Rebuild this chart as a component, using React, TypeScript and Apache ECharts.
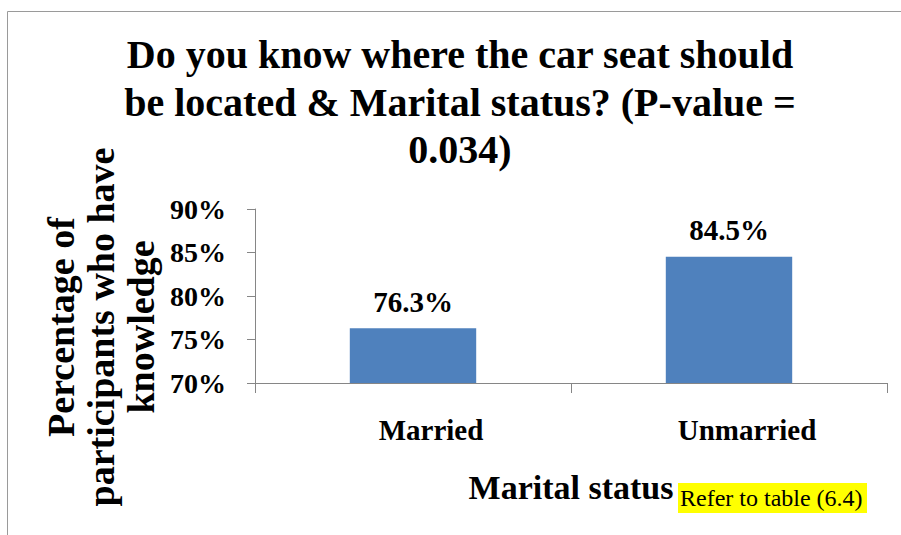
import React, { useEffect, useRef } from "react";
import * as echarts from "echarts";

const categories: string[] = ["Married", "Unmarried"];
const knowledgePct: number[] = [76.3, 84.5];
const yTicks = { min: 70, max: 90, interval: 5 };
const titleLines: string[] = [
  "Do you know where the car seat should",
  "be located & Marital status? (P-value =",
  "0.034)",
];
const yAxisNameLines: string[] = ["Percentage of", "participants who have", "knowledge"];
const xAxisName = "Marital status";
const noteText = "Refer to table (6.4)";

const SERIF = "'Liberation Serif', 'Times New Roman', serif";

export default function App() {
  const ref = useRef<HTMLDivElement>(null);
  useEffect(() => {
    if (!ref.current) return;
    const chart = echarts.init(ref.current, null, { renderer: "svg" });
    chart.setOption({
      animation: false,
      backgroundColor: "#ffffff",
      grid: { left: 255, right: 14, top: 209, bottom: 152, containLabel: false },
      xAxis: {
        type: "category",
        data: categories,
        boundaryGap: true,
        axisLine: { lineStyle: { color: "#868686", width: 1 } },
        axisTick: { show: true, length: 10, alignWithLabel: false, lineStyle: { color: "#868686" } },
        axisLabel: {
          margin: 32,
          padding: [0, 0, 0, 36],
          color: "#000",
          fontFamily: SERIF,
          fontWeight: "bold",
          fontSize: 29,
        },
        name: xAxisName,
        nameLocation: "middle",
        nameGap: 87,
        nameTextStyle: { color: "#000", fontFamily: SERIF, fontWeight: "bold", fontSize: 34 },
      },
      yAxis: {
        type: "value",
        min: yTicks.min,
        max: yTicks.max,
        interval: yTicks.interval,
        splitLine: { show: false },
        axisLine: { show: true, lineStyle: { color: "#868686", width: 1 } },
        axisTick: { show: true, length: 8, lineStyle: { color: "#868686" } },
        axisLabel: {
          formatter: "{value}%",
          margin: 29,
          color: "#000",
          fontFamily: SERIF,
          fontWeight: "bold",
          fontSize: 28,
        },
      },
      series: [
        {
          type: "bar",
          data: knowledgePct,
          barWidth: "40%",
          itemStyle: { color: "#4F81BD" },
          label: {
            show: true,
            position: "top",
            distance: 12,
            formatter: (p: any) => `${p.value.toFixed(1)}%`,
            color: "#000",
            fontFamily: SERIF,
            fontWeight: "bold",
            fontSize: 29,
          },
        },
      ],
      graphic: [
        {
          type: "rect",
          shape: { x: 7.5, y: 11.5, width: 1000, height: 1000 },
          style: { fill: "none", stroke: "#9a9a9a", lineWidth: 1 },
          silent: true,
          z: 0,
        },
        {
          type: "text",
          x: 460,
          y: 31,
          style: {
            text: titleLines.join("\n"),
            textAlign: "center",
            textVerticalAlign: "top",
            font: `bold 40px ${SERIF}`,
            lineHeight: 47.5,
            fill: "#000",
          },
        },
        {
          type: "text",
          x: 101,
          y: 327,
          rotation: Math.PI / 2,
          style: {
            text: yAxisNameLines.join("\n"),
            textAlign: "center",
            textVerticalAlign: "middle",
            font: `bold 38px ${SERIF}`,
            lineHeight: 40,
            fill: "#000",
          },
        },
        {
          type: "rect",
          shape: { x: 678, y: 483, width: 189, height: 30 },
          style: { fill: "#FFFF00" },
          silent: true,
        },
        {
          type: "text",
          x: 680,
          y: 498,
          style: {
            text: noteText,
            textAlign: "left",
            textVerticalAlign: "middle",
            font: `24px ${SERIF}`,
            fill: "#000",
          },
        },
      ],
    });
    return () => chart.dispose();
  }, []);
  return (
    <div
      ref={ref}
      style={{ position: "fixed", left: 0, top: 0, width: 901, height: 535, background: "#fff" }}
    />
  );
}
